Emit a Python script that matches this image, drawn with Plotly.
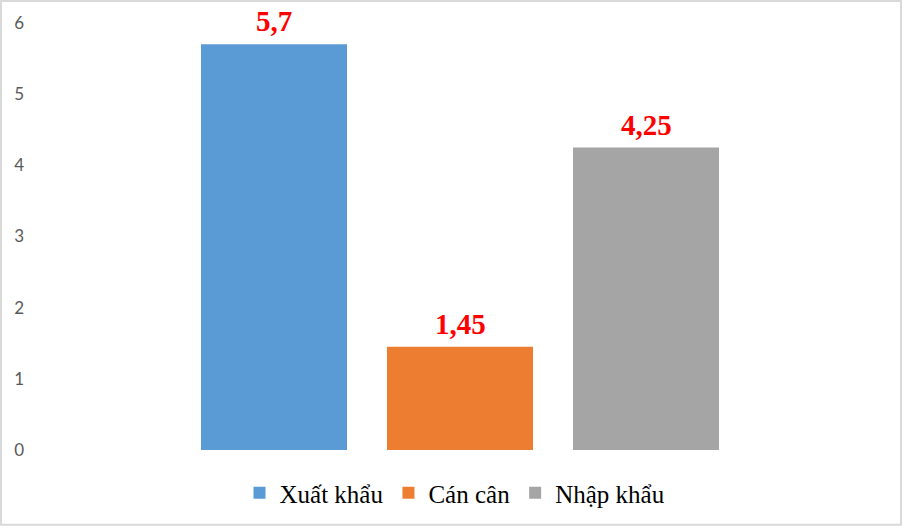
import plotly.graph_objects as go

series_names = ["Xuất khẩu", "Cán cân", "Nhập khẩu"]
series_values = [5.7, 1.45, 4.25]
value_labels = ["5,7", "1,45", "4,25"]
series_colors = ["#5B9BD5", "#ED7D31", "#A5A5A5"]
y_ticks = [0, 1, 2, 3, 4, 5, 6]

W, H = 902, 527
L, R, T, B = 30, 22, 23, 76
plot_w = W - L - R
plot_h = H - T - B

fig = go.Figure()
for i, (name, val, col) in enumerate(zip(series_names, series_values, series_colors)):
    fig.add_trace(go.Bar(
        x=[i], y=[val], name=name, marker_color=col, width=0.785,
        marker_line_width=0, hoverinfo="skip",
    ))
    fig.add_annotation(
        x=i, y=val, text=value_labels[i], showarrow=False,
        yanchor="middle", xanchor="center", yshift=23,
        font=dict(family="Liberation Serif", size=29, color="#FF0000", weight="bold"),
    )

# px -> axis unit mapping: category spacing 186 px, cat 0 centred at x=274
x_lo = (L - 274) / 186
x_hi = (W - R - 274) / 186

fig.update_layout(
    width=W, height=H,
    margin=dict(l=L, r=R, t=T, b=B),
    paper_bgcolor="white", plot_bgcolor="white",
    barmode="overlay",
    showlegend=True,
    legend=dict(
        orientation="h", x=0.5, xanchor="center",
        y=(T + plot_h - 493) / plot_h, yanchor="middle",
        font=dict(family="Liberation Serif", size=25, color="#000000"),
        itemwidth=30, tracegroupgap=0, traceorder="normal",
    ),
    xaxis=dict(range=[x_lo, x_hi], showticklabels=False, showgrid=False,
               zeroline=False, showline=False, ticks=""),
    yaxis=dict(range=[0, 6], tickvals=y_ticks, ticktext=[str(v) for v in y_ticks],
               showgrid=False, zeroline=False, showline=False, ticks="",
               tickfont=dict(family="Lato", size=17, color="#595959"),
               ticklabelstandoff=5),
    shapes=[dict(
        type="rect", xref="paper", yref="paper",
        x0=(1 - L) / plot_w, x1=(W - 1 - L) / plot_w,
        y0=-(B - 1) / plot_h,
        y1=1 + (T - 1) / plot_h,
        line=dict(color="#D9D9D9", width=2), fillcolor="rgba(0,0,0,0)", layer="below",
    )],
)

fig.write_html(
    "out.html",
    config={"displayModeBar": False},
    post_script="document.body.style.margin='0';document.body.style.overflow='hidden';",
)
